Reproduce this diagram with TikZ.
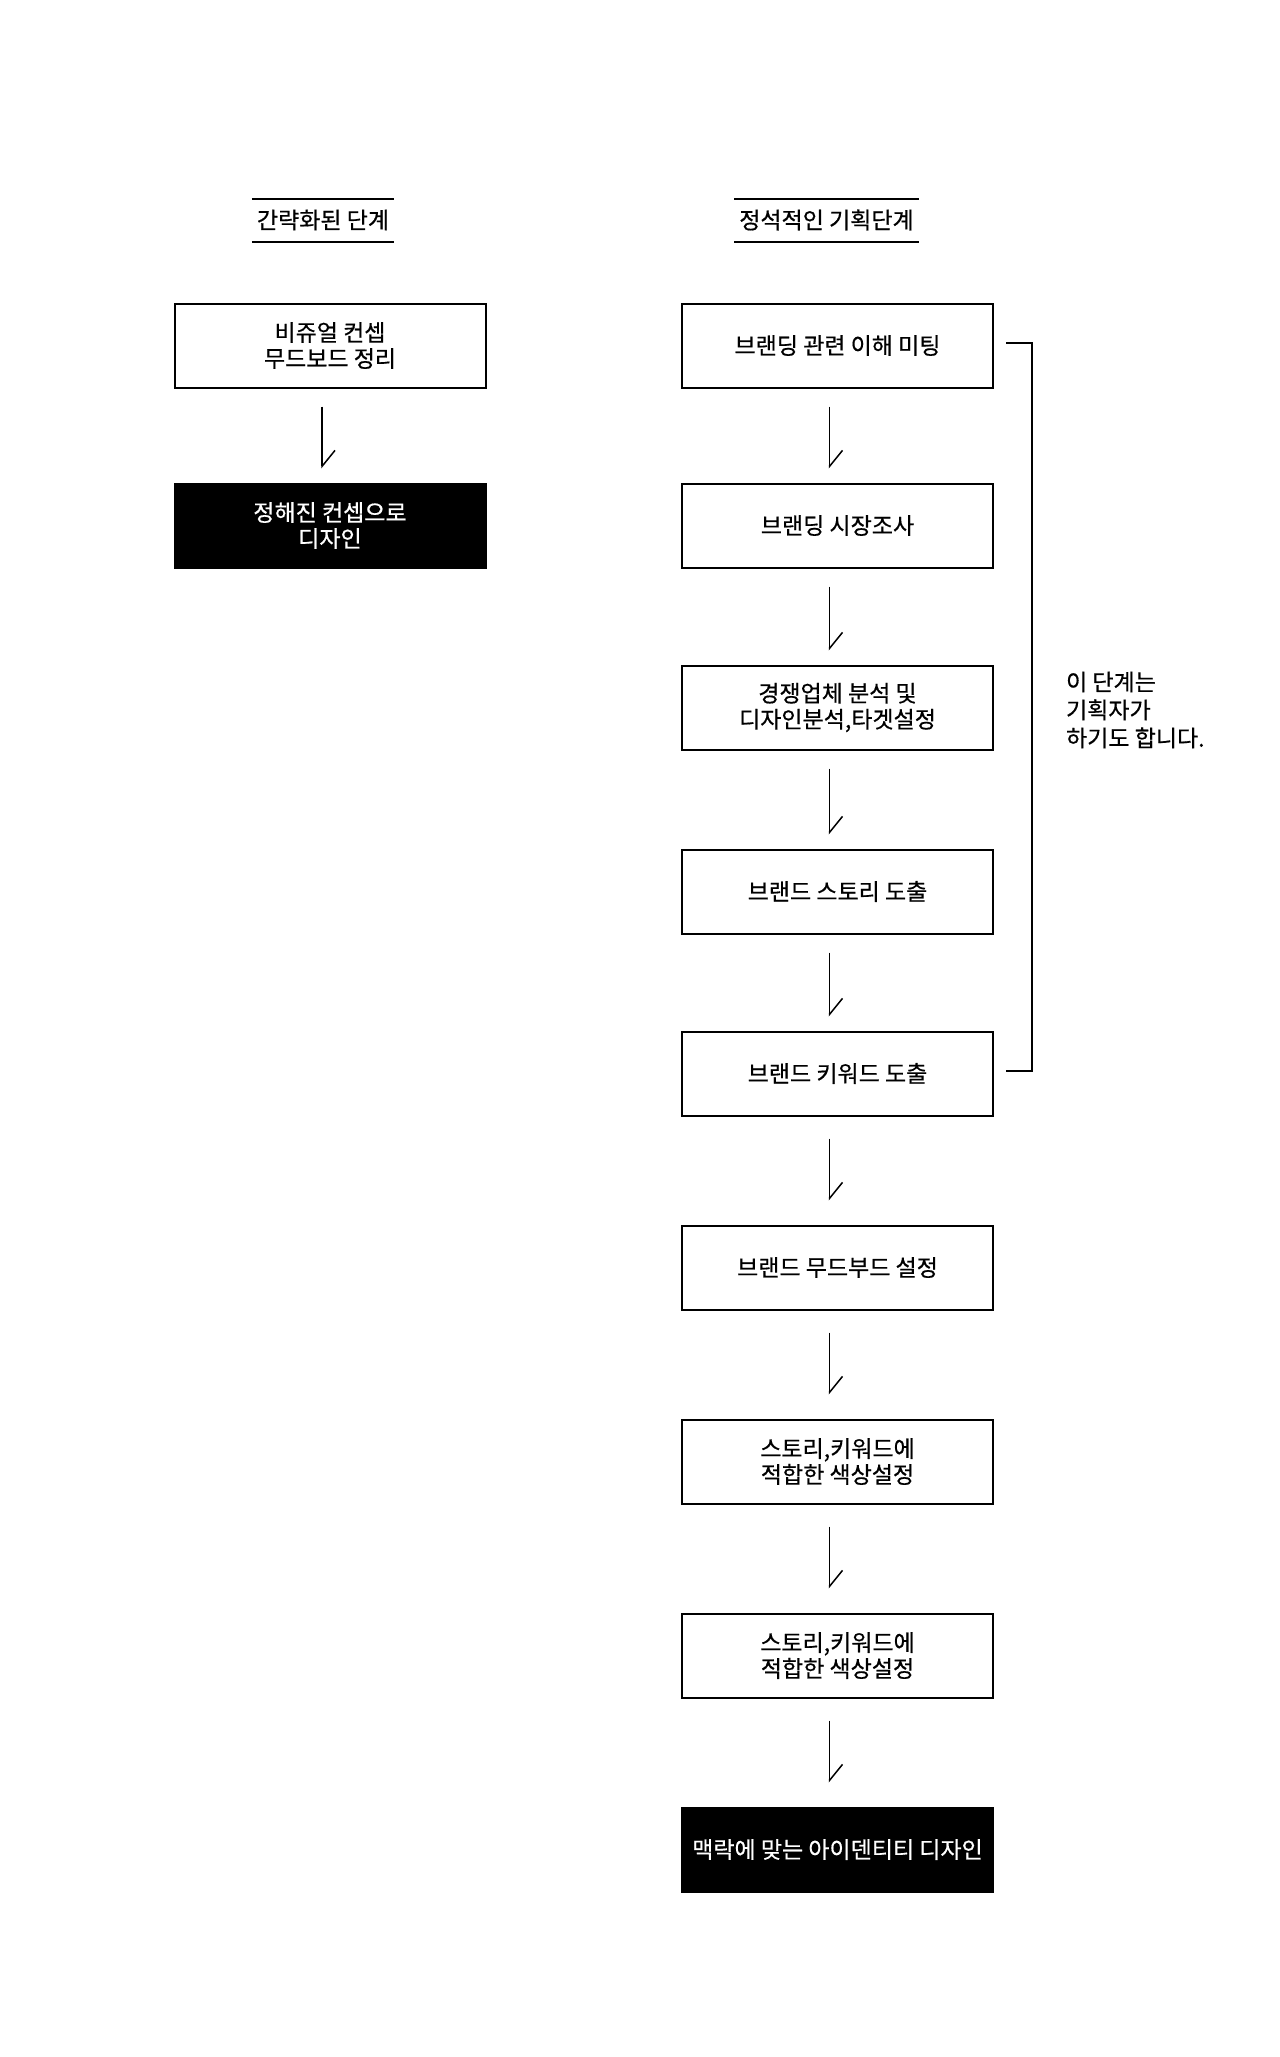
\documentclass[tikz,border=0pt]{standalone}
\usepackage{fontspec}
\setmainfont{Noto Sans CJK KR}[FakeBold=0.6]
\usetikzlibrary{arrows.meta}

\begin{document}
\begin{tikzpicture}[x=0.5pt, y=-0.5pt,
    font=\fontsize{11.5pt}{13pt}\selectfont,
    stage/.style={draw, line width=1pt, minimum width=155.5pt, minimum height=42pt, inner sep=0pt, align=center},
    final/.style={stage, fill=black, text=white},
    title/.style={minimum height=21.5pt, inner xsep=2.5pt, inner ysep=0pt, outer sep=0pt},
    rule/.style={line width=1pt},
    flow/.style={-{Straight Barb[left, length=8pt, width=13pt]}, line width=0.75pt, shorten <=9pt, shorten >=7pt},
    longflow/.style={flow, shorten <=11pt, shorten >=12pt}]
  \useasboundingbox (0,0) rectangle (1280,2057);

  % column titles
  \node[title] (hd1) at (323,  220) {간략화된 단계};
  \node[title] (hd2) at (826.5,220) {정석적인 기획단계};
  \draw[rule] (hd1.north west) -- (hd1.north east);
  \draw[rule] (hd1.south west) -- (hd1.south east);
  \draw[rule] (hd2.north west) -- (hd2.north east);
  \draw[rule] (hd2.south west) -- (hd2.south east);

  % short way
  \node[stage] (s1) at (330, 345.5) {비쥬얼 컨셉\\무드보드 정리};
  \node[final] (s2) at (330, 525.5) {정해진 컨셉으로\\디자인};

  % full way
  \node[stage] (f1) at (837.5, 345.5)  {브랜딩 관련 이해 미팅};
  \node[stage] (f2) at (837.5, 525.5)  {브랜딩 시장조사};
  \node[stage] (f3) at (837.5, 707.5)  {경쟁업체 분석 및\\디자인분석,타겟설정};
  \node[stage] (f4) at (837.5, 891.5)  {브랜드 스토리 도출};
  \node[stage] (f5) at (837.5, 1073.5) {브랜드 키워드 도출};
  \node[stage] (f6) at (837.5, 1267.5) {브랜드 무드부드 설정};
  \node[stage] (f7) at (837.5, 1461.5) {스토리,키워드에\\적합한 색상설정};
  \node[stage] (f8) at (837.5, 1655.5) {스토리,키워드에\\적합한 색상설정};
  \node[final] (f9) at (837.5, 1849.5) {맥락에 맞는 아이덴티티 디자인};

  \draw[flow] ([xshift=-4pt]s1.south) -- ([xshift=-4pt]s2.north);
  \draw[flow] ([xshift=-4pt]f1.south) -- ([xshift=-4pt]f2.north);
  \draw[flow] ([xshift=-4pt]f2.south) -- ([xshift=-4pt]f3.north);
  \draw[flow] ([xshift=-4pt]f3.south) -- ([xshift=-4pt]f4.north);
  \draw[flow] ([xshift=-4pt]f4.south) -- ([xshift=-4pt]f5.north);
  \draw[longflow] ([xshift=-4pt]f5.south) -- ([xshift=-4pt]f6.north);
  \draw[longflow] ([xshift=-4pt]f6.south) -- ([xshift=-4pt]f7.north);
  \draw[longflow] ([xshift=-4pt]f7.south) -- ([xshift=-4pt]f8.north);
  \draw[longflow] ([xshift=-4pt]f8.south) -- ([xshift=-4pt]f9.north);

  % bracket + note
  \draw[rule] ([xshift=6pt, yshift=1.5pt]f1.east) -- ++(12.75pt,0) |- ([xshift=6pt, yshift=1.5pt]f5.east);
  \node[anchor=west, align=left, font=\fontsize{11.5pt}{14pt}\selectfont] (note) at (1059, 710)
        {이 단계는\\기획자가\\하기도 합니다.};
\end{tikzpicture}
\end{document}
